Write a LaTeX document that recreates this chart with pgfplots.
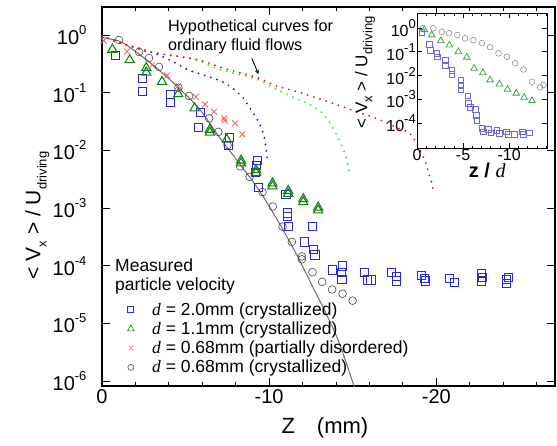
\documentclass[border=0pt]{standalone}
\usepackage{fontspec}
\setmainfont{Liberation Sans}
\newfontfamily\serif{Liberation Serif}
\usepackage{pgfplots}
\pgfplotsset{compat=1.18}

\newcommand\sups[1]{\raisebox{0.5em}{\fontsize{13}{13}\selectfont #1}}
\newcommand\subs[1]{\raisebox{-0.3em}{\fontsize{13}{13}\selectfont #1}}
\newcommand\dd{{\serif\itshape d}}

\definecolor{sqblue}{RGB}{40,40,225}
\definecolor{trgreen}{RGB}{15,130,15}
\definecolor{xred}{RGB}{240,95,95}
\definecolor{cgray}{RGB}{70,70,70}
\definecolor{dblue}{RGB}{25,25,235}
\definecolor{dgreen}{RGB}{50,230,50}
\definecolor{dred}{RGB}{230,25,25}

\pgfplotsset{
  dotcurve/.style={line width=2.1pt, line cap=round, dash pattern=on 0pt off 6.5pt, smooth, forget plot},
}

\begin{document}
\begin{tikzpicture}
\begin{axis}[
  at={(0,0)}, anchor=south west,
  scale only axis, width=453pt, height=379pt,
  x dir=reverse, xmin=-27.1, xmax=0,
  ymode=log, ymin=8.3e-7, ymax=3.06,
  axis line style={line width=1.2pt},
  tick style={black, line width=0.9pt},
  major tick length=8pt, minor tick length=4pt,
  xtick={0,-10,-20}, xticklabels={0,-10,-20},
  minor xtick={-2,-4,-6,-8,-12,-14,-16,-18,-22,-24,-26},
  ytick={1,0.1,0.01,0.001,0.0001,0.00001,0.000001},
  yticklabels={10\sups{0},10\sups{-1},10\sups{-2},10\sups{-3},10\sups{-4},10\sups{-5},10\sups{-6}},
  ticklabel style={font=\fontsize{20}{20}\selectfont},
  yticklabel style={xshift=-12pt},
  xlabel={Z\quad(mm)},
  xlabel style={at={(axis description cs:0.492,-0.111)}, anchor=center, font=\fontsize{22}{22}\selectfont},
  ylabel={{<} V\subs{x} {>}  /  U\subs{driving}},
  ylabel style={at={(axis description cs:-0.143,0.45)}, anchor=center, font=\fontsize{21}{21}\selectfont},
  legend style={at={(axis description cs:0.056,0.2255)}, anchor=north west, draw=none, fill=none,
    font=\fontsize{17.5}{20}\selectfont, inner xsep=0pt, inner ysep=0pt, row sep=1pt, column sep=16pt,
    cells={anchor=west}},
  legend cell align=left,
]
% measured, d = 2.0 mm
\addplot[sqblue, only marks, mark=square, mark size=4.1pt, mark options={sqblue, line width=0.8pt},
  legend image post style={mark size=3pt}] coordinates {
(-0.82,0.45) (-2.41,0.178) (-2.41,0.107) (-4.11,0.095) (-4.11,0.067) (-5.9,0.045) (-5.78,0.025)
(-7.60,0.017) (-7.57,0.0124) (-9.30,0.0068) (-9.25,0.0056) (-9.20,0.0042) (-9.37,0.0023)
(-11.0,0.00175) (-11.10,8.3e-4) (-11.10,7.1e-4) (-11.16,4.8e-4) (-12.59,4.8e-4) (-12.10,2.6e-4)
(-12.63,1.94e-4) (-12.74,1.55e-4) (-13.79,8.5e-5) (-14.39,1.0e-4) (-14.34,7.6e-5) (-14.35,5.9e-5)
(-15.72,7.6e-5) (-15.89,5.7e-5) (-16.09,5.7e-5) (-17.29,7.6e-5) (-17.62,6.6e-5) (-17.62,5.5e-5)
(-19.12,6.9e-5) (-19.28,6.1e-5) (-19.34,5.5e-5) (-20.78,6.0e-5) (-21.08,5.2e-5)
(-22.68,7.4e-5) (-22.74,6.4e-5) (-22.68,5.5e-5) (-24.21,5.9e-5) (-24.33,6.3e-5) (-24.21,5.0e-5)
};
\addlegendentry{\dd{} = 2.0mm (crystallized)}
% d = 1.1 mm
\addplot[trgreen, only marks, mark=triangle, mark size=5.3pt, mark options={trgreen, line width=1.1pt},
  legend image post style={mark size=3.8pt, mark options={line width=0.6pt}}] coordinates {
(-0.62,0.56) (-1.66,0.37) (-2.65,0.27) (-2.65,0.225) (-3.59,0.155) (-4.56,0.095) (-5.54,0.054)
(-6.45,0.023) (-6.45,0.0205) (-7.46,0.0155) (-8.32,0.0067) (-8.32,0.0060) (-9.22,0.0046) (-9.22,0.0041)
(-10.20,0.0027) (-10.20,0.0024) (-11.14,0.0020) (-11.14,0.00178) (-12.04,0.00144) (-12.04,0.00128)
(-12.93,0.00103) (-12.93,0.00092)
};
\addlegendentry{\dd{} = 1.1mm (crystallized)}
% d = 0.68 mm, partially disordered
\addplot[xred, only marks, mark=x, mark size=4.2pt, mark options={xred, line width=0.8pt},
  legend image post style={mark size=3pt, mark options={line width=0.5pt}}] coordinates {
(-0.1,0.80) (-1.5,0.52) (-3.0,0.30) (-3.9,0.20) (-4.57,0.132) (-5.61,0.085) (-6.17,0.063)
(-6.71,0.047) (-7.31,0.036) (-7.35,0.033) (-7.96,0.0295) (-8.40,0.019)
};
\addlegendentry{\dd{} = 0.68mm (partially disordered)}
% d = 0.68 mm, crystallized
\addplot[cgray, only marks, mark=o, mark size=3.9pt, mark options={cgray, line width=0.6pt},
  legend image post style={mark size=3pt}] coordinates {
(-1.02,0.82) (-2.22,0.51) (-2.81,0.40) (-3.41,0.28) (-4.57,0.122) (-5.21,0.088) (-6.41,0.036)
(-6.96,0.021) (-7.51,0.0124) (-8.26,0.0053) (-8.83,0.0035) (-9.60,0.0019) (-10.22,0.00107)
(-10.80,4.8e-4) (-11.36,2.6e-4) (-11.96,1.46e-4) (-11.96,1.3e-4) (-12.59,7.8e-5) (-13.17,5.3e-5)
(-13.77,3.9e-5) (-14.39,3.3e-5) (-14.99,2.5e-5)
};
\addlegendentry{\dd{} = 0.68mm (crystallized)}
% fit
\addplot[gray!85!black, line width=1pt, smooth, forget plot] coordinates {
(0,0.91) (-1.0,0.79) (-1.6,0.63) (-2.8,0.347) (-3.7,0.209) (-4.6,0.120) (-5.8,0.0537)
(-7.0,0.0174) (-8.2,0.00603) (-9.4,0.00204) (-10.6,5.5e-4) (-11.6,1.66e-4) (-12.6,4.37e-5)
(-13.4,1.51e-5) (-14.2,4.57e-6) (-15.1,7.9e-7)
};
% hypothetical fluid curves
\addplot[dotcurve, dblue] coordinates {
(0,0.98) (-1.1,0.72) (-2.3,0.58) (-3.4,0.45) (-4.4,0.33) (-5.2,0.245) (-6.4,0.19) (-7.2,0.155)
(-7.8,0.12) (-8.4,0.085) (-8.8,0.057) (-9.2,0.038) (-9.5,0.026) (-9.7,0.017) (-9.8,0.0116) (-9.9,0.0068)
};
\addplot[dotcurve, dgreen] coordinates {
(0,0.95) (-2.40,0.55) (-3.59,0.47) (-4.73,0.42) (-5.81,0.355) (-7.19,0.245) (-9.22,0.174)
(-10.42,0.115) (-11.38,0.085) (-12.40,0.063) (-13.17,0.045) (-13.77,0.026) (-14.19,0.015)
(-14.59,0.0079) (-14.79,0.0041)
};
\addplot[dotcurve, dred] coordinates {
(0,0.95) (-2.40,0.55) (-3.59,0.47) (-5.81,0.37) (-7.19,0.27) (-9.22,0.186) (-10.42,0.132)
(-11.98,0.098) (-13.59,0.069) (-14.97,0.050) (-16.41,0.036) (-17.49,0.026) (-18.38,0.020)
(-18.80,0.0135) (-19.18,0.0083) (-19.38,0.0060) (-19.58,0.0037) (-19.74,0.0027) (-19.82,0.0020)
};
\node[anchor=north west, align=left, inner sep=0pt, font=\fontsize{16.2}{18.5}\selectfont]
  at (axis description cs:0.1457,0.966) {Hypothetical curves for\\ordinary fluid flows};
\draw[-stealth, line width=0.9pt] (axis cs:-8.96,0.394) -- (axis cs:-9.36,0.211);
\node[anchor=base west, inner sep=0pt, font=\fontsize{17.5}{20}\selectfont]
  at (axis description cs:0.0287,0.3034) {Measured};
\node[anchor=base west, inner sep=0pt, font=\fontsize{17.5}{20}\selectfont]
  at (axis description cs:0.0287,0.2507) {particle velocity};
\end{axis}

% inset: velocity vs z/d
\begin{axis}[
  at={(315pt,238pt)}, anchor=south west,
  scale only axis, width=130pt, height=135pt,
  x dir=reverse, xmin=-14.1, xmax=0,
  ymode=log, ymin=8.9e-6, ymax=4.3,
  axis background/.style={fill=white},
  axis line style={line width=1pt},
  tick style={black, line width=0.7pt},
  major tick length=5pt, minor tick length=2.5pt,
  xtick={0,-5,-10}, xticklabels={0,-5,-10},
  minor xtick={-1,-2,-3,-4,-6,-7,-8,-9,-11,-12,-13,-14},
  ytick={1,0.1,0.01,0.001,0.0001},
  yticklabels={10\sups{0},10\sups{-1},10\sups{-2},10\sups{-3},10\sups{-4}},
  ticklabel style={font=\fontsize{16}{16}\selectfont, inner sep=1pt},
  xlabel={\textbf{z / }\dd},
  xlabel style={at={(axis description cs:0.54,-0.165)}, anchor=center, font=\fontsize{20}{20}\selectfont},
  ylabel={{<} V\subs{x} {>}  /  U\subs{driving}},
  ylabel style={at={(axis description cs:-0.40,0.56)}, anchor=center, font=\fontsize{17}{17}\selectfont},
]
\addplot[only marks, mark=o, mark size=2.9pt, gray, mark options={gray, line width=0.5pt}] coordinates {
(-0.62,0.97) (-1.77,0.97) (-2.68,0.70) (-3.48,0.60) (-4.38,0.51) (-5.22,0.37) (-6.12,0.31)
(-7.03,0.23) (-7.93,0.155) (-8.84,0.086) (-9.75,0.062) (-10.65,0.033) (-11.55,0.018)
(-12.47,0.0055) (-13.37,0.0032) (-13.73,0.004)
};
\addplot[only marks, mark=triangle, mark size=3.8pt, trgreen!75!white, mark options={trgreen!75!white, line width=0.8pt}] coordinates {
(-0.8,0.85) (-1.60,0.51) (-2.58,0.29) (-3.51,0.19) (-4.49,0.10) (-5.40,0.059) (-6.20,0.020)
(-7.14,0.013) (-7.93,0.0065) (-8.95,0.0044) (-9.82,0.0026) (-10.76,0.0018) (-11.63,0.0012) (-12.47,8.7e-4)
};
\addplot[only marks, mark=square, mark size=2.9pt, sqblue!70!white, mark options={sqblue!70!white, line width=0.6pt}] coordinates {
(-0.51,0.65) (-1.34,0.21) (-1.41,0.12) (-2.14,0.086) (-2.21,0.062) (-3.04,0.045) (-3.04,0.028)
(-3.77,0.017) (-3.77,0.0116) (-4.75,0.0065) (-4.75,0.004) (-4.75,0.0025) (-5.51,0.0014)
(-5.58,6.8e-4) (-5.76,4.6e-4) (-6.30,3.8e-4) (-6.41,2.2e-4) (-6.49,1.26e-4) (-7.03,6.0e-5)
(-7.21,4.3e-5) (-7.75,5.4e-5) (-8.01,3.9e-5) (-8.66,5.1e-5) (-8.95,3.7e-5) (-9.67,4.3e-5)
(-9.92,3.4e-5) (-10.58,3.4e-5) (-11.38,4.3e-5) (-11.49,3.4e-5) (-12.21,3.9e-5)
};
\end{axis}
\pgfresetboundingbox
\useasboundingbox (-102pt,-59pt) rectangle (455pt,386pt);
\end{tikzpicture}
\end{document}
